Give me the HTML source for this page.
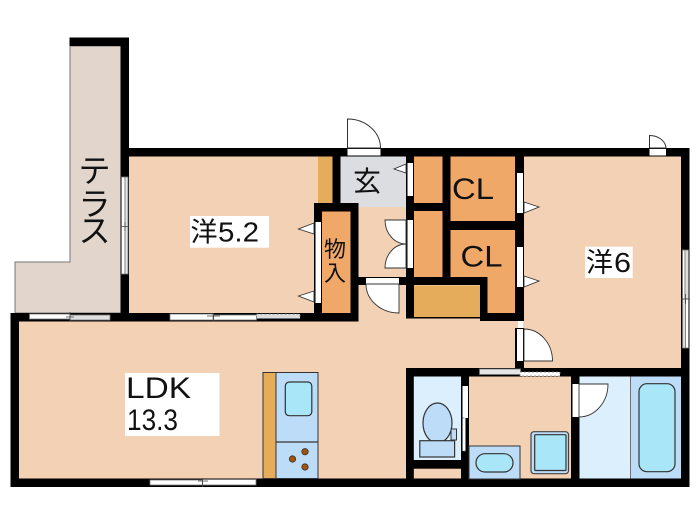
<!DOCTYPE html>
<html><head><meta charset="utf-8"><style>
html,body{margin:0;padding:0;background:#fff;width:700px;height:525px;overflow:hidden}
svg{display:block}
text{font-family:"Liberation Sans","Noto Sans CJK JP",sans-serif;fill:#111}
</style></head><body>
<svg width="700" height="525" viewBox="0 0 700 525" xmlns="http://www.w3.org/2000/svg">
<rect width="700" height="525" fill="#fff"/>
<!-- terrace -->
<path d="M70 46H121V313H15V262H70Z" fill="#e2d6cc" stroke="#777" stroke-width="1"/>
<!-- rooms peach -->
<g fill="#f2d1b5">
<rect x="129" y="156" width="190" height="158"/>
<rect x="18" y="321" width="390" height="158"/>
<rect x="358" y="207" width="50" height="115"/>
<rect x="358" y="284" width="160" height="85"/>
<rect x="523" y="156" width="159" height="213"/>
<rect x="468" y="376" width="104" height="104"/>
<rect x="413" y="468" width="49" height="12"/>
</g>
<!-- orange closets -->
<g fill="#f0a868">
<rect x="322" y="211" width="29" height="103"/>
<rect x="414" y="156" width="29" height="48"/>
<rect x="414" y="210" width="29" height="68"/>
<rect x="450" y="156" width="66" height="66"/>
<path d="M450 229H516V314H487V278H450Z"/>
</g>
<g fill="#e5ac5c">
<rect x="318" y="156" width="15" height="48"/>
<rect x="414" y="285.500" width="66" height="31.500"/>
</g>
<rect x="340" y="156" width="67" height="51" fill="#dcdde0"/>
<!-- wet rooms -->
<rect x="413" y="376" width="49" height="85" fill="#dceffc"/>
<rect x="579" y="376" width="52" height="104" fill="#dceffc"/>
<rect x="630.500" y="376" width="51" height="104" fill="#bcdcf8" stroke="#555" stroke-width=".8"/>
<!-- walls -->
<g fill="#000">
<rect x="69.500" y="37.500" width="59.500" height="8.500"/>
<rect x="120.500" y="37.500" width="8.500" height="284"/>
<rect x="120.500" y="148" width="569" height="8.500"/>
<rect x="681" y="148" width="8.500" height="339"/>
<rect x="10.500" y="313" width="348" height="8.500"/>
<rect x="10.500" y="313" width="8.500" height="174"/>
<rect x="10.500" y="478.500" width="679" height="8.500"/>
<rect x="332.500" y="156" width="8" height="50"/>
<rect x="314" y="203" width="44.500" height="8.500"/>
<rect x="314" y="203" width="8" height="118"/>
<rect x="350.500" y="203" width="8" height="118"/>
<rect x="406" y="148" width="8" height="170.500"/>
<rect x="406" y="203" width="44" height="8"/>
<rect x="442.500" y="148" width="8" height="137"/>
<rect x="358" y="277" width="129.500" height="8"/>
<rect x="480" y="277" width="7.500" height="44"/>
<rect x="480" y="313" width="44" height="8"/>
<rect x="442.500" y="221" width="81" height="9"/>
<rect x="515" y="148" width="9" height="173"/>
<rect x="515" y="328" width="9" height="41"/>
<rect x="406" y="368" width="283" height="8.500"/>
<rect x="406" y="368" width="7.800" height="119"/>
<rect x="406" y="460" width="63" height="8.700"/>
<rect x="461" y="376" width="8" height="105"/>
<rect x="571" y="376" width="8.500" height="105"/>
<rect x="406" y="317" width="74" height="1.500"/>
</g>
<!-- entry door -->
<rect x="347.500" y="149" width="33" height="6.500" fill="#fff"/>
<path d="M347.500 148V119A33 29 0 0 1 380.500 148Z" fill="#fff" stroke="#333" stroke-width="1"/>
<!-- small door top right -->
<rect x="649.500" y="149" width="16.500" height="6.500" fill="#fff"/>
<path d="M649.500 148V135.500A16.500 13 0 0 1 666 148Z" fill="#fff" stroke="#333" stroke-width="1"/>
<!-- slots -->
<g fill="#fff">
<rect x="407.500" y="163" width="5.500" height="33"/>
<rect x="407.500" y="220" width="5.500" height="48"/>
<rect x="517" y="173" width="6" height="40"/>
<rect x="517" y="247" width="6" height="40"/>
<rect x="315.500" y="222" width="5.500" height="81"/>
<rect x="366" y="278" width="33" height="6"/>
<rect x="517" y="329" width="6" height="32"/>
<rect x="572.500" y="384" width="6.500" height="33"/>
<rect x="462.500" y="386" width="5.500" height="32"/>
</g>
<!-- triangles -->
<g fill="#fff" stroke="#333" stroke-width=".9">
<path d="M406 164L394 169L406 173Z"/>
<path d="M314 223L298.500 229L314 234Z"/>
<path d="M314 291L298.500 296L314 302Z"/>
<path d="M524 202L539 207L524 213Z"/>
<path d="M524 276L539 281L524 287Z"/>
<!-- doors -->
<path d="M406 220H385A21 24 0 0 0 406 244Z"/>
<path d="M406 268H385A21 24 0 0 1 406 244Z"/>
<path d="M399 284V313A33 29 0 0 1 366 284Z"/>
<path d="M524 361H552.500A28.500 32 0 0 0 524 329Z"/>
<path d="M579 384H608A29 33 0 0 1 579 417Z"/>
</g>
<!-- windows -->
<g fill="#fff" stroke="#777" stroke-width=".8">
<rect x="121.500" y="177" width="3.500" height="97" />
<rect x="125" y="177" width="3" height="97" fill="#e4e4e4"/>
<rect x="29.500" y="314" width="40.500" height="5"/>
<rect x="70" y="315" width="40" height="5" fill="#e0e0e0"/>
<rect x="170" y="314" width="43" height="6"/>
<rect x="213.500" y="315" width="43" height="5"/>
<rect x="256.500" y="314" width="43.500" height="4.500" fill="#ddd" stroke-dasharray="2 2"/>
<rect x="150" y="480" width="52.500" height="5"/>
<rect x="202.500" y="479.500" width="53.500" height="5.500"/>
<rect x="682.500" y="250" width="2.500" height="49"/>
<rect x="685" y="250" width="3.500" height="49" fill="#ddd"/>
<rect x="682.500" y="299" width="3" height="49" fill="#ddd"/>
<rect x="685.500" y="299" width="3" height="49"/>
<rect x="479.500" y="369" width="41" height="5.500" fill="#e6e6e6"/>
<rect x="520" y="372" width="40" height="4" fill="#fff" stroke-dasharray="2 2"/>
<rect x="462.500" y="418" width="3" height="33" fill="#fff" stroke-dasharray="2 2"/>
</g>
<g stroke="#444" stroke-width=".8" fill="none">
<path d="M121 226.500H129M125 222V231"/>
<path d="M70 312V321M66 317H74"/>
<path d="M213.500 313V321M207 316H220"/>
<path d="M202.500 478V487M198 481H208"/>
<path d="M681 299H690M685.500 294V304"/>
</g>
<!-- toilet -->
<ellipse cx="437.500" cy="423" rx="14.500" ry="20" fill="#bcdcf8" stroke="#333" stroke-width="1.200"/>
<rect x="451" y="429" width="5.500" height="11" fill="#bcdcf8" stroke="#333" stroke-width="1"/>
<rect x="419.800" y="440.700" width="34.800" height="16.300" fill="#bcdcf8" stroke="#333" stroke-width="1.200"/>
<!-- washstand -->
<rect x="469" y="446" width="51" height="33" fill="#bcdcf8" stroke="#333" stroke-width="1"/>
<rect x="476" y="453.700" width="37" height="18.300" rx="9" fill="#a8e6f8" stroke="#333" stroke-width="1.200"/>
<!-- washer -->
<rect x="531" y="431.700" width="37.500" height="42" rx="3" fill="#bcdcf8" stroke="#444" stroke-width="1.200"/>
<rect x="534.700" y="434.700" width="31.300" height="35.800" rx="1" fill="#a8e6f8" stroke="#333" stroke-width="1.200"/>
<!-- tub -->
<rect x="639" y="383.700" width="36" height="88" rx="8" fill="#a8e6f8" stroke="#333" stroke-width="1.200"/>
<!-- kitchen -->
<rect x="263" y="372.500" width="13" height="106" fill="#e5ac5c" stroke="#333" stroke-width="1"/>
<rect x="276" y="372.500" width="42" height="106" fill="#bcdcf8" stroke="#333" stroke-width="1"/>
<path d="M276 442H318" stroke="#333" stroke-width="1.200"/>
<rect x="285.300" y="382" width="26.500" height="33.700" rx="4" fill="#a8e6f8" stroke="#333" stroke-width="1.200"/>
<g fill="#a0520f" stroke="#333" stroke-width=".8">
<circle cx="292.500" cy="459" r="3.200"/>
<circle cx="305" cy="451.700" r="3.200"/>
<circle cx="305" cy="467" r="3.200"/>
</g>
<!-- labels -->
<rect x="125" y="373" width="94.500" height="63" fill="#fff"/>
<rect x="190" y="216" width="79" height="31.700" fill="#fff"/>
<rect x="585" y="246.700" width="47.700" height="31.300" fill="#fff"/>
<text x="126" y="398" font-size="30" textLength="65" lengthAdjust="spacingAndGlyphs">LDK</text>
<text x="127" y="430" font-size="30" textLength="51" lengthAdjust="spacingAndGlyphs">13.3</text>
<text x="190.500" y="241.500" font-size="27">洋</text>
<text x="218" y="241.500" font-size="28" textLength="41" lengthAdjust="spacingAndGlyphs">5.2</text>
<text x="586" y="272" font-size="27">洋</text>
<text x="614" y="272" font-size="28" textLength="17" lengthAdjust="spacingAndGlyphs">6</text>
<text x="452" y="199" font-size="30" textLength="42" lengthAdjust="spacingAndGlyphs">CL</text>
<text x="460.500" y="266.500" font-size="30" textLength="42" lengthAdjust="spacingAndGlyphs">CL</text>
<text x="353" y="191" font-size="28">玄</text>
<text x="324" y="257" font-size="22">物</text>
<text x="324" y="281" font-size="22">入</text>
<text x="78.500" y="182" font-size="32">テ</text>
<text x="78.500" y="215" font-size="32">ラ</text>
<text x="78.500" y="242" font-size="32">ス</text>
</svg>
</body></html>
